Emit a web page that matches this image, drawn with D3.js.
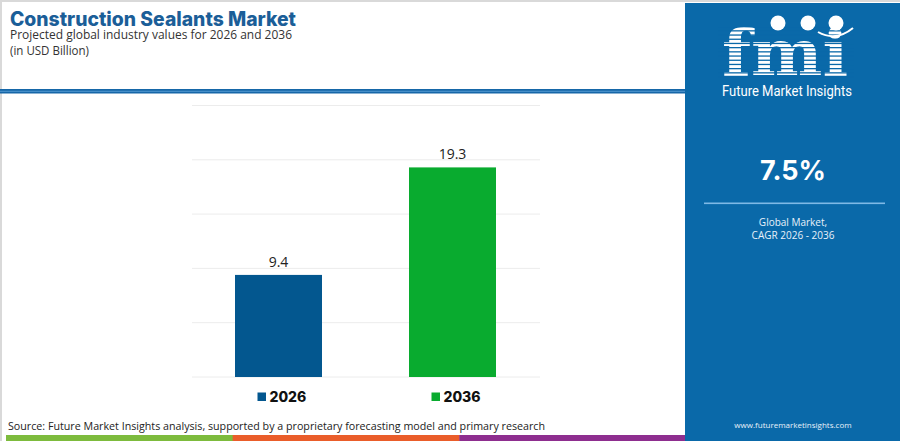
<!DOCTYPE html>
<html>
<head>
<meta charset="utf-8">
<script src="https://cdn.jsdelivr.net/npm/d3@7"></script>
<style>
  body { margin: 0; background: #fff; }
  svg { display: block; font-family: "Open Sans", "Noto Sans", sans-serif; }
</style>
</head>
<body>
<div id="chart"></div>
<script>
// chart data
const years = ["2026", "2036"];
const values = [9.4, 19.3];
const barColors = ["#03578f", "#09ab2f"];
const yTicks = [0, 5, 10, 15, 20, 25];
const cagr = "7.5%";
const footerColors = ["#7dbb3d", "#ea5d2a", "#8e2e8f"];

const W = 900, H = 441;
const svg = d3.select("#chart").append("svg")
    .attr("width", W)
    .attr("height", H);

// frame
svg.append("rect").attr("x", 0).attr("y", 0).attr("width", W).attr("height", H).attr("fill", "#d9d9d9");
svg.append("rect").attr("x", 2).attr("y", 2).attr("width", W - 2).attr("height", H - 2).attr("fill", "#fff");

// header
svg.append("text").attr("x", 10).attr("y", 26)
    .attr("font-size", 19.5).attr("font-weight", 800).attr("fill", "#1b5e98")
    .attr("font-family", "Inter, sans-serif")
    .attr("textLength", 286).attr("lengthAdjust", "spacingAndGlyphs")
    .text("Construction Sealants Market");
svg.append("text").attr("x", 10).attr("y", 39)
    .attr("font-size", 12.5).attr("fill", "#333")
    .attr("textLength", 282).attr("lengthAdjust", "spacingAndGlyphs")
    .text("Projected global industry values for 2026 and 2036");
svg.append("text").attr("x", 10).attr("y", 54.5)
    .attr("font-size", 12.5).attr("fill", "#333")
    .attr("textLength", 79).attr("lengthAdjust", "spacingAndGlyphs")
    .text("(in USD Billion)");

svg.append("rect").attr("x", 0).attr("y", 89).attr("width", 686).attr("height", 4.5).attr("fill", "#1667a8");
svg.append("rect").attr("x", 0).attr("y", 90.8).attr("width", 686).attr("height", 0.9).attr("fill", "#5aa0d6");

// chart
const y = d3.scaleLinear().domain([0, 25]).range([377, 105.5]);
const cx = d3.scalePoint().domain(years).range([278.5, 452.5]);
const bw = 87;

svg.append("g").selectAll("line").data(yTicks).enter().append("line")
    .attr("x1", 192).attr("x2", 540)
    .attr("y1", d => y(d)).attr("y2", d => y(d))
    .attr("stroke", "#ececec").attr("stroke-width", 1);

svg.append("g").selectAll("rect").data(values).enter().append("rect")
    .attr("x", (d, i) => cx(years[i]) - bw / 2)
    .attr("y", d => y(d))
    .attr("width", bw)
    .attr("height", d => y(0) - y(d))
    .attr("fill", (d, i) => barColors[i]);

svg.append("g").selectAll("text").data(values).enter().append("text")
    .attr("x", (d, i) => cx(years[i]))
    .attr("y", d => y(d) - 8)
    .attr("text-anchor", "middle")
    .attr("font-size", 14).attr("fill", "#222")
    .text(d => d.toFixed(1));

// legend
const lg = svg.append("g").selectAll("g").data(years).enter().append("g")
    .attr("transform", (d, i) => "translate(" + (cx(d) - 21) + ",397)");
lg.append("rect").attr("x", 0).attr("y", -4.5).attr("width", 8.5).attr("height", 8.5)
    .attr("fill", (d, i) => barColors[i]);
lg.append("text").attr("x", 12).attr("y", 5)
    .attr("font-size", 14).attr("font-weight", 800).attr("fill", "#111")
    .attr("font-family", "Inter, sans-serif")
    .text(d => d);

// footer
svg.append("text").attr("x", 8).attr("y", 429.5)
    .attr("font-size", 11).attr("fill", "#222")
    .attr("textLength", 537).attr("lengthAdjust", "spacingAndGlyphs")
    .text("Source: Future Market Insights analysis, supported by a proprietary forecasting model and primary research");
const fw = (686 - 6) / footerColors.length;
svg.append("g").selectAll("rect").data(footerColors).enter().append("rect")
    .attr("x", (d, i) => 6 + i * fw).attr("y", 435)
    .attr("width", fw + 0.5).attr("height", 6)
    .attr("fill", d => d);

// right panel
const px = 685;
svg.append("rect").attr("x", px).attr("y", 3).attr("width", W - px).attr("height", H - 3).attr("fill", "#0a69a9");

// logo
const logo = svg.append("g");
logo.append("text").attr("x", 785).attr("y", 75)
    .attr("text-anchor", "middle")
    .attr("font-family", "DejaVu Serif, serif").attr("font-weight", 700)
    .attr("font-size", 64).attr("fill", "#fff")
    .attr("textLength", 126).attr("lengthAdjust", "spacingAndGlyphs")
    .text("fmi");
for (let yy = 26; yy < 78; yy += 4.2) {
    logo.append("rect").attr("x", 718).attr("y", yy).attr("width", 136).attr("height", 1.3).attr("fill", "#0a69a9");
}
[[778, 23], [808, 23], [836, 23]].forEach(p => {
    logo.append("circle").attr("cx", p[0]).attr("cy", p[1]).attr("r", 7.5).attr("fill", "#fff");
});
logo.append("path").attr("d", "M818,32 Q836,42 853,28").attr("fill", "none").attr("stroke", "#fff").attr("stroke-width", 2);
logo.append("text").attr("x", 722).attr("y", 96)
    .attr("font-family", "Roboto, sans-serif").attr("font-size", 14).attr("fill", "#fff")
    .attr("textLength", 130).attr("lengthAdjust", "spacingAndGlyphs")
    .text("Future Market Insights");

svg.append("text").attr("x", 793).attr("y", 180)
    .attr("text-anchor", "middle")
    .attr("font-family", "Inter, sans-serif")
    .attr("font-size", 27).attr("font-weight", 700).attr("fill", "#fff")
    .text(cagr);
svg.append("rect").attr("x", 704).attr("y", 202.5).attr("width", 181).attr("height", 1.6).attr("fill", "#7fb9e6");
svg.append("text").attr("x", 793).attr("y", 226)
    .attr("text-anchor", "middle").attr("font-size", 10).attr("fill", "#e8f1fa")
    .text("Global Market,");
svg.append("text").attr("x", 793).attr("y", 239)
    .attr("text-anchor", "middle").attr("font-size", 10).attr("fill", "#e8f1fa")
    .text("CAGR 2026 - 2036");
svg.append("text").attr("x", 793).attr("y", 428)
    .attr("text-anchor", "middle").attr("font-size", 8).attr("fill", "#e8f1fa")
    .text("www.futuremarketinsights.com");
</script>
</body>
</html>
